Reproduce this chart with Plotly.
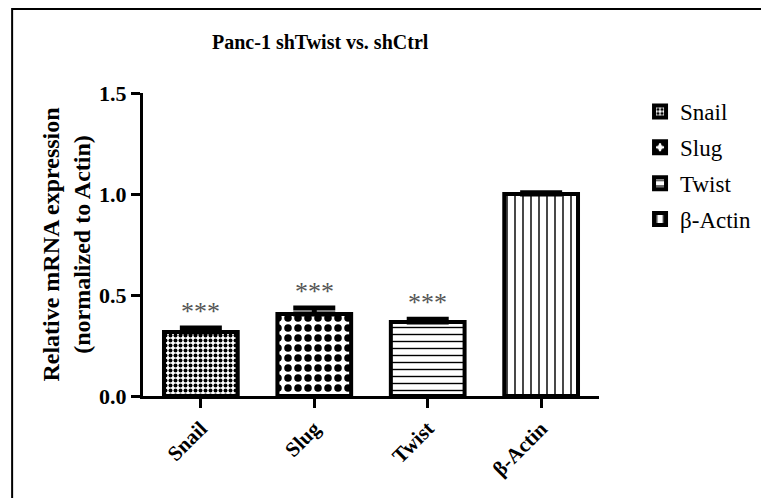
import plotly.graph_objects as go

categories = ["Snail", "Slug", "Twist", "β-Actin"]
values = [0.317, 0.406, 0.366, 1.0]
errors = [0.020, 0.030, 0.014, 0.006]
stars = ["***", "***", "***", ""]
patterns = [".", ".", "-", "|"]
pattern_sizes = [5, 10, 7, 8]
pattern_solid = [0.5, 0.45, 0.2, 0.18]
y_ticks = [0.0, 0.5, 1.0, 1.5]
y_ticklabels = ["0.0", "0.5", "1.0", "1.5"]

FONT = "Liberation Serif"

fig = go.Figure()
for i, cat in enumerate(categories):
    fig.add_trace(go.Bar(
        x=[cat], y=[values[i]], name=cat, width=0.65,
        legendgroup=cat,
        marker=dict(
            color="white",
            line=dict(color="black", width=4),
            pattern=dict(shape=patterns[i], size=pattern_sizes[i],
                         solidity=pattern_solid[i], fgcolor="black",
                         bgcolor="white", fillmode="replace"),
        ),
        error_y=dict(type="data", symmetric=False, array=[errors[i]],
                     arrayminus=[0], color="black", thickness=5, width=21),
    ))

for i, cat in enumerate(categories):
    if stars[i]:
        fig.add_annotation(x=cat, y=values[i] + errors[i], text=stars[i],
                           showarrow=False, yanchor="bottom", yshift=0,
                           font=dict(family=FONT, size=26, color="#555"))

fig.add_annotation(xref="paper", yref="paper", x=0.39, y=1.168,
                   xanchor="center", yanchor="middle",
                   text="<b>Panc-1 shTwist vs. shCtrl</b>", showarrow=False,
                   font=dict(family=FONT, size=20, color="black"))

# outer frame
fig.add_shape(type="rect", xref="paper", yref="paper",
              x0=-0.287, y0=-0.5, x1=1.5, y1=1.277,
              line=dict(color="black", width=2), layer="below")

fig.update_layout(
    width=769, height=498,
    margin=dict(l=135, r=178, t=85, b=110, autoexpand=False),
    paper_bgcolor="white", plot_bgcolor="white",
    barmode="overlay",
    showlegend=True,
    legend=dict(x=1.09, y=1.01, xanchor="left", yanchor="top",
                font=dict(family=FONT, size=23, color="black"),
                traceorder="grouped", tracegroupgap=3,
                bgcolor="rgba(0,0,0,0)"),
    xaxis=dict(range=[-0.51, 3.51], showline=True, linecolor="black", linewidth=3,
               ticks="outside", ticklen=9, tickwidth=2.5, tickcolor="black",
               tickangle=-45, showgrid=False, zeroline=False, automargin=False,
               tickfont=dict(family=FONT, size=21, color="black"),
               categoryorder="array", categoryarray=categories,
               ticktext=["<b>%s</b>" % c for c in categories], tickvals=categories),
    yaxis=dict(range=[0, 1.5], showline=True, linecolor="black", linewidth=3,
               ticks="outside", ticklen=9, tickwidth=2.5, tickcolor="black",
               tickvals=y_ticks, ticktext=["<b>%s</b>" % t for t in y_ticklabels],
               showgrid=False, zeroline=False, automargin=False,
               tickfont=dict(family=FONT, size=22, color="black"),
               title=dict(text="<b>Relative mRNA expression<br>(normalized to Actin)</b>",
                          font=dict(family=FONT, size=24, color="black"), standoff=2)),
)

fig.write_html("out.html")
